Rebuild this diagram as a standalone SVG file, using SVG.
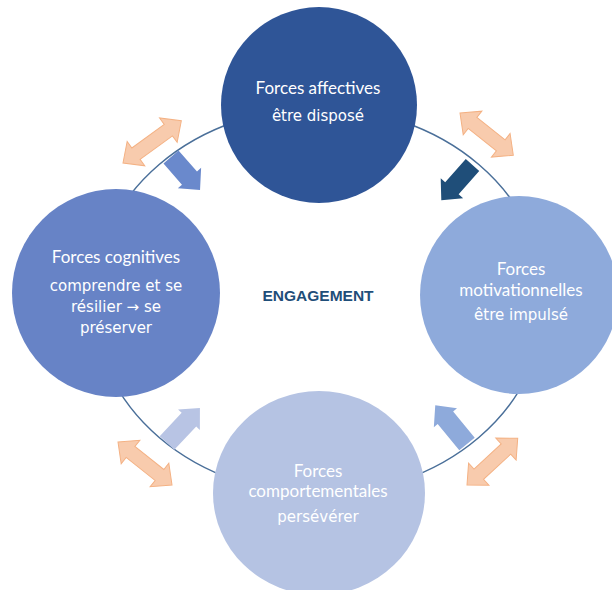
<svg xmlns="http://www.w3.org/2000/svg" width="612" height="590" viewBox="0 0 612 590">
<style>
.t1{font-family:Lato,"Liberation Sans",sans-serif;font-size:17px;fill:#ffffff;text-anchor:middle}
.t2{font-family:"DejaVu Sans","Liberation Sans",sans-serif;font-size:15px;fill:#ffffff;text-anchor:middle}
.dbl{fill:#f8cbad;stroke:#f4b183;stroke-width:1}
</style>
<rect width="612" height="590" fill="#ffffff"/>
<g id="connectors">
<ellipse cx="319" cy="301" rx="226" ry="193" fill="none" stroke="#4a6f99" stroke-width="1.5"/>
<polygon transform="translate(472.5,165) rotate(131.6)" points="0,-9 31,-9 31,-15 47,0 31,15 31,9 0,9" fill="#1f4e79"/>
<polygon transform="translate(171,157) rotate(48.7)" points="0,-10 28,-10 28,-15.5 44,0 28,15.5 28,10 0,10" fill="#6a89cc"/>
<polygon transform="translate(167,443) rotate(-46.7)" points="0,-10 32,-10 32,-15 48,0 32,15 32,10 0,10" fill="#b8c4e4"/>
<polygon transform="translate(467,444) rotate(-129.4)" points="0,-10 34,-10 34,-15 50,0 34,15 34,10 0,10" fill="#8eaadb"/>
<polygon class="dbl" transform="translate(123,163) rotate(-35.9)" points="0,0 16,-15 16,-7 56,-7 56,-15 72,0 56,15 56,7 16,7 16,15"/>
<polygon class="dbl" transform="translate(460,113) rotate(38.4)" points="0,0 16,-15 16,-7 52,-7 52,-15 68,0 52,15 52,7 16,7 16,15"/>
<polygon class="dbl" transform="translate(118,442) rotate(38.5)" points="0,0 16,-15 16,-7 53,-7 53,-15 69,0 53,15 53,7 16,7 16,15"/>
<polygon class="dbl" transform="translate(467,485) rotate(-42.7)" points="0,0 16,-15 16,-7 53,-7 53,-15 69,0 53,15 53,7 16,7 16,15"/>
</g>
<g id="affectives">
<circle cx="319" cy="105" r="98" fill="#2f5597"/>
<text class="t1" x="318" y="94">Forces affectives</text>
<text class="t2" x="318" y="121">être disposé</text>
</g>
<g id="cognitives">
<circle cx="116" cy="293" r="104" fill="#6783c6"/>
<text class="t1" x="116" y="263">Forces cognitives</text>
<text class="t2" x="116" y="291">comprendre et se</text>
<text class="t2" x="116" y="312">résilier → se</text>
<text class="t2" x="116" y="333">préserver</text>
</g>
<g id="motivationnelles">
<circle cx="519" cy="295" r="99" fill="#8eaadb"/>
<text class="t1" x="521" y="275">Forces</text>
<text class="t1" x="521" y="296">motivationnelles</text>
<text class="t2" x="521" y="320">être impulsé</text>
</g>
<g id="comportementales">
<ellipse cx="319" cy="493" rx="106" ry="102" fill="#b5c3e3"/>
<text class="t1" x="318" y="477">Forces</text>
<text class="t1" x="318" y="497">comportementales</text>
<text class="t2" x="318" y="522">persévérer</text>
</g>
<g id="engagement">
<text x="318" y="301" font-family="'Liberation Sans',sans-serif" font-size="15.5" font-weight="bold" fill="#1f4e79" text-anchor="middle">ENGAGEMENT</text>
</g>
</svg>
